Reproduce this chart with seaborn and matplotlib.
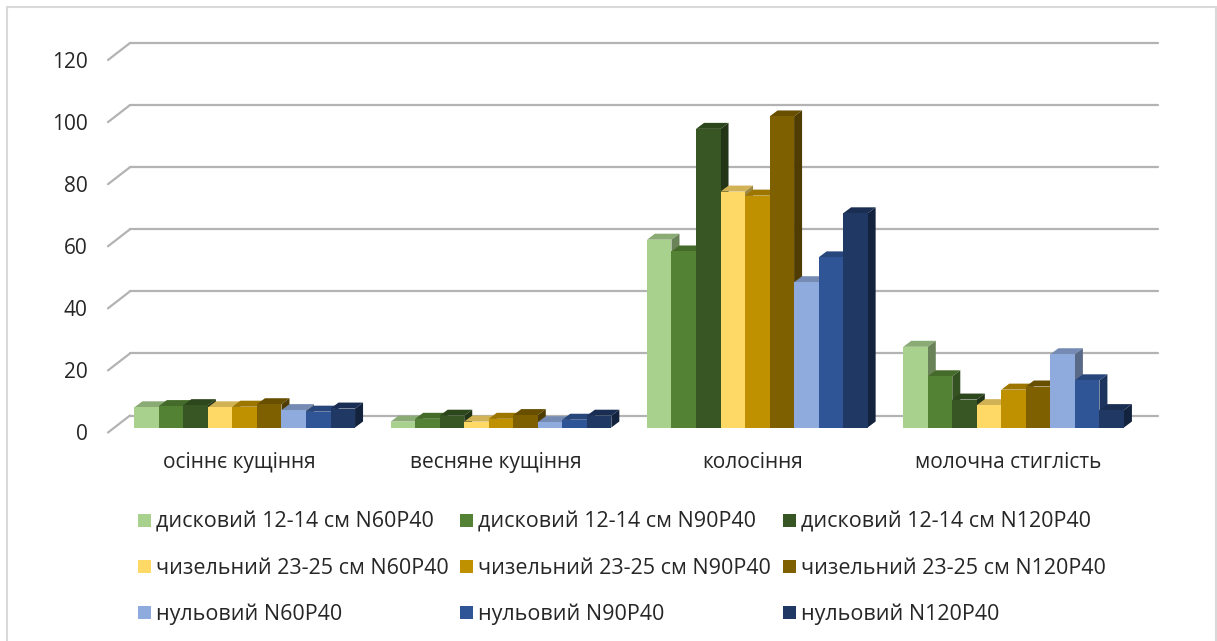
import numpy as np
import pandas as pd
import seaborn as sns
import matplotlib.pyplot as plt
import matplotlib.colors as mcolors
from matplotlib.patches import Polygon, Rectangle, Patch
from matplotlib.lines import Line2D

# ---- data -------------------------------------------------------------
stages = ["осіннє кущіння", "весняне кущіння", "колосіння", "молочна стиглість"]

variants = [
    "дисковий 12-14 см N60P40",
    "дисковий 12-14 см N90P40",
    "дисковий 12-14 см N120P40",
    "чизельний 23-25 см N60P40",
    "чизельний 23-25 см N90P40",
    "чизельний 23-25 см N120P40",
    "нульовий N60P40",
    "нульовий N90P40",
    "нульовий N120P40",
]

disk_n60 = [6.5, 1.9, 60.5, 26.0]
disk_n90 = [6.9, 2.8, 56.7, 16.5]
disk_n120 = [7.2, 3.8, 96.2, 9.0]
chisel_n60 = [6.5, 1.9, 76.0, 7.2]
chisel_n90 = [6.7, 2.8, 74.7, 12.2]
chisel_n120 = [7.5, 4.0, 100.2, 13.2]
zero_n60 = [5.6, 1.7, 46.8, 23.6]
zero_n90 = [5.1, 2.5, 54.8, 15.2]
zero_n120 = [6.1, 3.8, 69.0, 5.6]

series = [disk_n60, disk_n90, disk_n120,
          chisel_n60, chisel_n90, chisel_n120,
          zero_n60, zero_n90, zero_n120]

colors = ["#A9D18E", "#548235", "#375623",
          "#FFD966", "#BF9000", "#7F6000",
          "#8FAADC", "#2F5597", "#1F3864"]

y_ticks = [0, 20, 40, 60, 80, 100, 120]

df = pd.DataFrame({
    "stage": np.tile(stages, len(variants)),
    "variant": np.repeat(variants, len(stages)),
    "value": np.concatenate(series),
})

# ---- figure / axes geometry (pixels) ----------------------------------
W, H, DPI = 1217, 641, 100
sns.set_theme(style="white")
plt.rcParams["font.family"] = ["Open Sans", "DejaVu Sans"]
TEXT = "#262626"
GRID = "#b3b3b3"

fig = plt.figure(figsize=(W / DPI, H / DPI), dpi=DPI)
fig.patch.set_facecolor("white")

ax_l, ax_r = 108, 1136          # front edge of the floor
ax_b, ax_t = 432.5, 60          # value 0 and value 120 on the front plane
ax = fig.add_axes([ax_l / W, 1 - ax_b / H, (ax_r - ax_l) / W, (ax_b - ax_t) / H])

sns.barplot(data=df, x="stage", y="value", hue="variant",
            order=stages, hue_order=variants, palette=colors,
            saturation=1, width=0.861, gap=0, errorbar=None,
            legend=False, ax=ax)

cat_step_px = 256.3
first_cat_px = 239.7
x0 = (ax_l - first_cat_px) / cat_step_px
x1 = (ax_r - first_cat_px) / cat_step_px
ax.set_xlim(x0, x1)
ax.set_ylim(0, 120)

ux = (ax_r - ax_l) / (x1 - x0)   # px per x unit
uy = (ax_b - ax_t) / 120.0       # px per y unit

# back wall / left wall offsets
wall_dx, wall_dy = 22 / ux, 17 / uy
# bars stand half-way into the floor
bar_dx, bar_dy = 5 / ux, 5 / uy
# bar depth
dep_dx, dep_dy = 8 / ux, 6 / uy

# gridlines on the back wall plus the left-wall edges
for v in y_ticks:
    ax.add_line(Line2D([x0 + wall_dx, x1 + wall_dx], [v + wall_dy, v + wall_dy],
                       color=GRID, lw=1.6, clip_on=False, zorder=1))
    ax.add_line(Line2D([x0, x0 + wall_dx], [v, v + wall_dy],
                       color=GRID, lw=1.6, clip_on=False, zorder=1))


def shade(c, f):
    r, g, b = mcolors.to_rgb(c)
    return (r * f, g * f, b * f)


bars = sorted(ax.patches, key=lambda p: p.get_x())
for k, p in enumerate(bars):
    xl = p.get_x() + bar_dx
    w = p.get_width()
    h = p.get_height()
    base = bar_dy
    fc = p.get_facecolor()
    p.set_x(xl)
    p.set_y(base)
    p.set_edgecolor("none")
    p.set_clip_on(False)
    p.set_zorder(10 + 2 * k + 1)
    top = Polygon([(xl, base + h), (xl + w, base + h),
                   (xl + w + dep_dx, base + h + dep_dy), (xl + dep_dx, base + h + dep_dy)],
                  closed=True, facecolor=shade(fc, 0.82), edgecolor="none",
                  clip_on=False, zorder=10 + 2 * k)
    side = Polygon([(xl + w, base), (xl + w + dep_dx, base + dep_dy),
                    (xl + w + dep_dx, base + h + dep_dy), (xl + w, base + h)],
                   closed=True, facecolor=shade(fc, 0.62), edgecolor="none",
                   clip_on=False, zorder=10 + 2 * k)
    ax.add_patch(top)
    ax.add_patch(side)

ax.set_yticks(y_ticks)
ax.set_yticklabels([str(v) for v in y_ticks])
ax.set_xlabel("")
ax.set_ylabel("")
ax.tick_params(axis="y", length=0, pad=14.5, labelsize=15, labelcolor=TEXT)
ax.tick_params(axis="x", length=0, pad=14, labelsize=15, labelcolor=TEXT)
for s in ax.spines.values():
    s.set_visible(False)
ax.set_facecolor("none")
ax.grid(False)

# ---- legend: three fixed columns, rows by tillage type -------------------
col_px = [138, 460, 783]
row_center_px = 568.5
for j, cx in enumerate(col_px):
    idx = [j, j + 3, j + 6]
    handles = [Patch(facecolor=colors[i], edgecolor="none") for i in idx]
    labels = [variants[i] for i in idx]
    fig.legend(handles, labels, loc="center left",
               bbox_to_anchor=(cx / W, 1 - row_center_px / H),
               frameon=False, fontsize=15.5, labelcolor=TEXT,
               handlelength=0.6, handleheight=0.56, handletextpad=0.23,
               labelspacing=1.15, borderpad=0, borderaxespad=0)

# chart frame
fig.patches.append(Rectangle((7 / W, -0.05), (1215.5 - 7) / W, 1.05 - 7 / H,
                             transform=fig.transFigure, fill=False,
                             edgecolor="#d9d9d9", lw=1.5))

fig.savefig("out.png", dpi=DPI, facecolor="white")
